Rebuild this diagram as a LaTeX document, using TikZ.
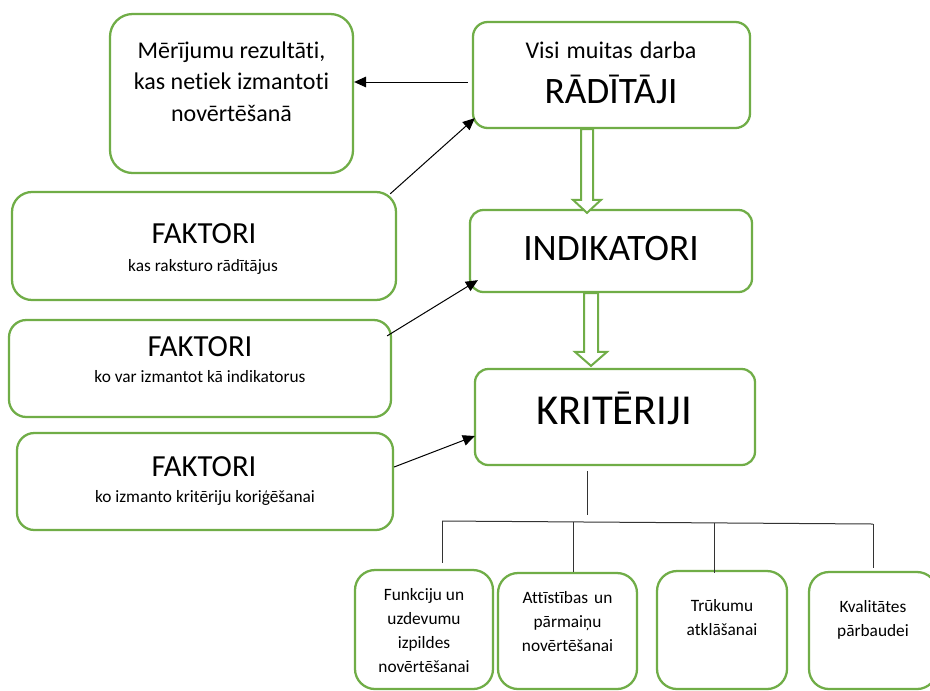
\documentclass[tikz,border=0pt]{standalone}
\usepackage{fontspec}
\setmainfont{Carlito}[Ligatures={NoCommon,NoContextual,NoRare}, RawFeature={-liga;-clig;-calt;-dlig}]
\usetikzlibrary{arrows.meta,calc,fit}
\definecolor{boxgreen}{HTML}{70AD47}

% hollow block arrow: #1 top point, #2 tip, #3 shaft half width, #4 head half width, #5 head length
\newcommand\hollowarrow[5]{%
  \draw[hollow] ($(#1)+(-#3,0)$) -- ($(#2)+(-#3,-#5)$) -- ($(#2)+(-#4,-#5)$) -- (#2)
    -- ($(#2)+(#4,-#5)$) -- ($(#2)+(#3,-#5)$) -- ($(#1)+(#3,0)$) -- cycle;}

\begin{document}
\begin{tikzpicture}[x=0.75pt,y=-0.75pt,
  box/.style={draw=boxgreen, line width=1.7pt, fill=white, inner sep=0pt},
  hollow/.style={draw=boxgreen, line width=1.5pt, fill=white, line join=miter},
  link/.style={draw=black, line width=0.75pt, -{Triangle[length=9pt,width=8pt]}},
  tree/.style={draw=black!80, line width=0.75pt},
  txt/.style={inner sep=0pt, align=center, text=black},
  fbig/.style={font=\fontsize{23}{28}\selectfont},
  fsmall/.style={font=\fontsize{13}{18}\selectfont},
  fmid/.style={font=\fontsize{18}{23.8}\selectfont},
  fhuge/.style={font=\fontsize{28}{34}\selectfont},
]
\useasboundingbox (0,0) rectangle (930,690);
\fill[white] (0,0) rectangle (930,690);
\clip (0,0) rectangle (930,690);

% ---- boxes ----
\node[box, rounded corners=17pt, fit={(110,14) (353,173)}] (mer) {};
\node[box, rounded corners=11pt, fit={(473,22) (750,128)}] (vis) {};
\node[box, rounded corners=10pt, fit={(470,210) (752,292)}] (ind) {};
\node[box, rounded corners=10pt, fit={(475,369) (755,465)}] (kri) {};
\node[box, rounded corners=15pt, fit={(12,192) (396,300)}] (f1) {};
\node[box, rounded corners=13pt, fit={(9,320) (391,417)}] (f2) {};
\node[box, rounded corners=13pt, fit={(17,433) (393,530)}] (f3) {};
\node[box, rounded corners=15pt, fit={(355,570) (493,689)}] (bA) {};
\node[box, rounded corners=15pt, fit={(498,573) (637,689)}] (bB) {};
\node[box, rounded corners=15pt, fit={(657,571) (787,689)}] (bC) {};
\node[box, rounded corners=15pt, fit={(809,572) (937,689)}] (bD) {};

% ---- texts ----
\node[txt, fmid] (mert) at (231.5,81.5) {Mērījumu rezultāti,\\kas netiek izmantoti\\novērtēšanā};
\node[txt, fmid, anchor=base] (vist) at (611,58.5) {Visi\hspace{0.3em}muitas\hspace{0.3em}darba};
\node[txt, fhuge, anchor=base] (visb) at (611,103.5) {RĀDĪTĀJI};
\node[txt, fhuge, anchor=base] (indt) at (611,260.7) {INDIKATORI};
\node[txt, font=\fontsize{32}{38}\selectfont, anchor=base] (krit) at (614,424) {KRITĒRIJI};

\node[txt, fbig, anchor=base] (f1a) at (204,243.3) {FAKTORI};
\node[txt, fsmall, anchor=base] (f1b) at (203,271.7) {kas raksturo rādītājus};
\node[txt, fbig, anchor=base] (f2a) at (200,356) {FAKTORI};
\node[txt, fsmall, anchor=base] (f2b) at (200,382.3) {ko var izmantot kā indikatorus};
\node[txt, fbig, anchor=base] (f3a) at (204,476) {FAKTORI};
\node[txt, fsmall, anchor=base] (f3b) at (205,502.3) {ko izmanto kritēriju koriģēšanai};

\node[txt, fsmall] (tA) at (424,631) {Funkciju un\\uzdevumu\\izpildes\\novērtēšanai};
\node[txt, fsmall] (tB) at (567.5,621.3) {Attīstības\hspace{0.35em}un\\pārmaiņu\\novērtēšanai};
\node[txt, fsmall] (tC) at (722,618) {Trūkumu\\atklāšanai};
\node[txt, fsmall] (tD) at (873,620) {Kvalitātes\\pārbaudei};

% ---- hollow arrows between the main boxes ----
\coordinate (ax1) at (587,0);
\coordinate (h1top) at (ax1 |- vis.south);
\coordinate (h1tip) at ($(ax1 |- ind.north)+(0,4)$);
\hollowarrow{h1top}{h1tip}{6}{14}{13}
\coordinate (ax2) at (591,0);
\coordinate (h2top) at (ax2 |- ind.south);
\coordinate (h2tip) at ($(ax2 |- kri.north)+(0,-2)$);
\hollowarrow{h2top}{h2tip}{7}{16}{14}

% ---- arrows ----
\coordinate (m1) at ($(vis.west)+(-4,7)$);
\draw[link] (m1) -- (mer.east |- m1);
\draw[link] ($(f1.north east)+(-7,3)$) -- ($(vis.south west)+(3,-11)$);
\draw[link] ($(f2.north east)+(-5,17)$) -- ($(ind.south west)+(9,-13)$);
\draw[link] ($(f3.east)+(0,-14.5)$) -- ($(kri.west)+(1,19)$);

% ---- tree below the criteria ----
\coordinate (stem) at (587,515);
\coordinate (busA) at (442,521);
\coordinate (busB) at (573,522);
\coordinate (busC) at (714,523);
\coordinate (busD) at (873,524);
\draw[tree] ($(kri.south -| stem)+(0,5)$) -- (stem);
\draw[tree] (busA) -- (busD);
\draw[tree] (busA) -- ($(bA.north -| busA)+(0,-6)$);
\draw[tree] (busB) -- (bB.north -| busB);
\draw[tree] (busC) -- ($(bC.north -| busC)+(0,3)$);
\draw[tree] (busD) -- ($(bD.north -| busD)+(0,-3)$);
\end{tikzpicture}
\end{document}
